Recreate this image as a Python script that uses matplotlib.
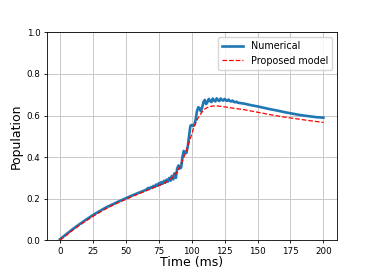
import matplotlib
matplotlib.use("Agg")
import matplotlib.pyplot as plt

# Numerical solution
t_num = [0, 5, 10, 15, 20, 25, 30, 35, 40, 45, 50, 55, 60, 65,
         66, 67, 68, 69, 70, 71, 72, 73, 74, 75, 76, 77, 78, 79, 80,
         81, 82, 83, 84, 85, 86, 87, 88, 89, 90, 91, 92, 93, 94, 95,
         96, 97, 98, 99, 100, 101, 102, 103, 104, 105, 106, 107, 108, 109, 110,
         111, 112, 113, 114, 115, 116, 117, 118, 119, 120, 121, 122, 123, 124, 125,
         126, 127, 128, 129, 130, 131, 132, 133, 134, 135,
         140, 145, 150, 155, 160, 165, 170, 175, 180, 185, 190, 195, 200]
v_num = [0.005, 0.03, 0.055, 0.078, 0.100, 0.121, 0.140, 0.158, 0.173, 0.188, 0.202, 0.216, 0.229, 0.242,
         0.246, 0.252, 0.248, 0.256, 0.252, 0.262, 0.257, 0.268, 0.262, 0.274, 0.267, 0.280, 0.272, 0.286, 0.277,
         0.292, 0.282, 0.300, 0.287, 0.310, 0.293, 0.322, 0.300, 0.345, 0.360, 0.345, 0.350, 0.400, 0.430, 0.420,
         0.420, 0.450, 0.500, 0.550, 0.555, 0.550, 0.555, 0.580, 0.620, 0.640, 0.635, 0.620, 0.640, 0.665, 0.675,
         0.655, 0.665, 0.680, 0.670, 0.665, 0.682, 0.672, 0.668, 0.683, 0.674, 0.670, 0.682, 0.675, 0.672, 0.680,
         0.673, 0.671, 0.677, 0.670, 0.668, 0.672, 0.666, 0.664, 0.667, 0.662,
         0.657, 0.650, 0.644, 0.637, 0.630, 0.624, 0.617, 0.611, 0.605, 0.600, 0.596, 0.592, 0.590]

# Proposed model
t_mod = [0, 5, 10, 15, 20, 25, 30, 35, 40, 45, 50, 55, 60, 65, 70, 75, 80, 85, 88, 90, 92, 95,
         98, 100, 102, 105, 108, 110, 113, 116, 120, 125, 130, 140, 150, 160, 170, 180, 190, 200]
v_mod = [0.0, 0.025, 0.050, 0.073, 0.094, 0.115, 0.134, 0.152, 0.168, 0.183, 0.197, 0.211, 0.224,
         0.237, 0.250, 0.263, 0.278, 0.300, 0.320, 0.342, 0.368, 0.415, 0.470, 0.510, 0.550, 0.590,
         0.618, 0.632, 0.642, 0.646, 0.646, 0.642, 0.637, 0.628, 0.616, 0.604, 0.593, 0.584, 0.575, 0.567]

fig, ax = plt.subplots(figsize=(3.74, 2.70), dpi=100)
ax.plot(t_num, v_num, color='tab:blue', lw=1.9, label='Numerical')
ax.plot(t_mod, v_mod, color='red', ls='--', lw=0.9, label='Proposed model')
ax.set_ylim(0, 1.0)
ax.set_xlim(-10, 210)
ax.set_xticks([0, 25, 50, 75, 100, 125, 150, 175, 200])
ax.grid(True, lw=0.7, color='#c8c8c8')
ax.tick_params(labelsize=6.3, width=0.6, length=2.5, pad=2)
for s in ax.spines.values():
    s.set_linewidth(0.6)
ax.set_xlabel('Time (ms)', fontsize=9, labelpad=0)
ax.set_ylabel('Population', fontsize=9, labelpad=3)
ax.legend(loc='upper right', fontsize=6.9, frameon=True, fancybox=True, framealpha=0.8,
          handlelength=2.2, borderpad=0.4)
fig.savefig('out.png', dpi=100)
